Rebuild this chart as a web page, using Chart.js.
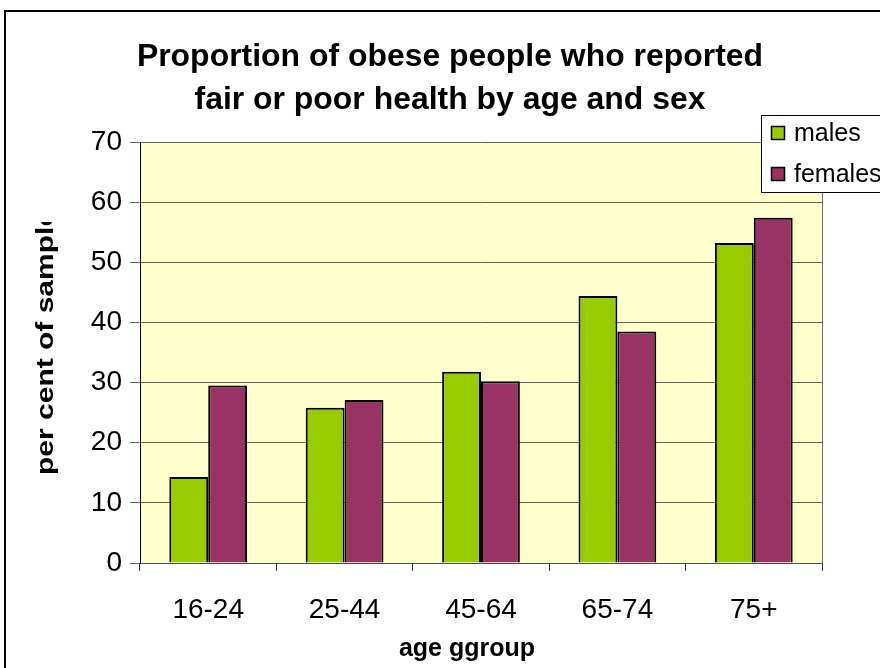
<!DOCTYPE html>
<html>
<head>
<meta charset="utf-8">
<script src="https://cdn.jsdelivr.net/npm/chart.js@4.4.1/dist/chart.umd.min.js"></script>
<style>
	body { margin: 0; background: #fff; }
	canvas { display: block; }
</style>
</head>
<body>
<canvas id="chart" width="880" height="668"></canvas>
<script>
let ageGroups = ['16-24', '25-44', '45-64', '65-74', '75+']
let males = [14.3, 25.8, 31.8, 44.4, 53.2]
let females = [29.5, 27.1, 30.2, 38.5, 57.4]
let titleLines = ['Proportion of obese people who reported', 'fair or poor health by age and sex']
let xTitle = 'age ggroup'
let yTitle = 'per cent of sample'

let fontFamily = '"Liberation Sans", Arial, sans-serif'

// text drawn with an optional horizontal stretch
function drawText(ctx, text, x, y, font, sx, align) {
	ctx.save()
	ctx.translate(x, y)
	ctx.scale(sx, 1)
	ctx.font = font
	ctx.textAlign = align
	ctx.textBaseline = 'alphabetic'
	ctx.fillStyle = '#000'
	ctx.fillText(text, 0, 0)
	ctx.restore()
}

let framePlugin = {
	id: 'frame',
	beforeDraw(chart) {
		let ctx = chart.ctx
		let a = chart.chartArea
		ctx.save()
		ctx.fillStyle = '#fff'
		ctx.fillRect(0, 0, chart.width, chart.height)
		ctx.fillStyle = '#FFFFCC'
		ctx.fillRect(a.left, a.top, a.right - a.left, a.bottom - a.top)
		ctx.restore()
	},
	afterDraw(chart) {
		let ctx = chart.ctx
		let a = chart.chartArea
		ctx.save()

		// right edge of the plot area
		ctx.strokeStyle = '#707070'
		ctx.lineWidth = 1
		ctx.beginPath()
		ctx.moveTo(Math.round(a.right) + 0.5, a.top)
		ctx.lineTo(Math.round(a.right) + 0.5, a.bottom)
		ctx.stroke()

		// chart border, runs off the right and bottom edges
		ctx.strokeStyle = '#000'
		ctx.lineWidth = 2
		ctx.strokeRect(5, 11, 1000, 1000)

		// title
		drawText(ctx, titleLines[0], 450, 66, 'bold 31px ' + fontFamily, 1.03, 'center')
		drawText(ctx, titleLines[1], 450, 109, 'bold 31px ' + fontFamily, 1.03, 'center')

		// x axis title
		drawText(ctx, xTitle, 467, 656, 'bold 25px ' + fontFamily, 1, 'center')

		// y axis title, clipped at the top
		ctx.save()
		ctx.beginPath()
		ctx.rect(0, 222, 140, 446)
		ctx.clip()
		ctx.translate(53, 475)
		ctx.rotate(-Math.PI / 2)
		ctx.scale(1.25, 1)
		ctx.font = 'bold 24px ' + fontFamily
		ctx.textAlign = 'left'
		ctx.textBaseline = 'alphabetic'
		ctx.fillStyle = '#000'
		ctx.fillText(yTitle, 0, 0)
		ctx.restore()

		// legend box
		ctx.fillStyle = '#fff'
		ctx.fillRect(761, 115, 200, 78)
		ctx.strokeStyle = '#000'
		ctx.lineWidth = 1
		ctx.strokeRect(761.5, 115.5, 200, 77)
		let rows = [133.5, 174.5]
		chart.data.datasets.forEach(function (ds, i) {
			ctx.fillStyle = ds.backgroundColor
			ctx.fillRect(771.5, rows[i] - 7, 13, 13)
			ctx.strokeStyle = '#000'
			ctx.lineWidth = 1.5
			ctx.strokeRect(771.5, rows[i] - 7, 13, 13)
			ctx.fillStyle = '#000'
			ctx.font = '25px ' + fontFamily
			ctx.textAlign = 'left'
			ctx.textBaseline = 'middle'
			ctx.fillText(ds.label, 794, rows[i] + 1)
		})

		ctx.restore()
	},
}

let chart = new Chart(document.getElementById('chart'), {
	type: 'bar',
	data: {
		labels: ageGroups,
		datasets: [
			{
				label: 'males',
				data: males,
				backgroundColor: '#99CC00',
				borderColor: '#000',
				borderWidth: 2,
				categoryPercentage: 0.57,
				barPercentage: 1.0,
			},
			{
				label: 'females',
				data: females,
				backgroundColor: '#993366',
				borderColor: '#000',
				borderWidth: 2,
				categoryPercentage: 0.57,
				barPercentage: 1.0,
			},
		],
	},
	options: {
		responsive: false,
		animation: false,
		layout: {
			padding: { top: 142, right: 58, left: 0, bottom: 0 },
		},
		plugins: {
			legend: { display: false },
			title: { display: false },
			tooltip: { enabled: false },
		},
		scales: {
			x: {
				afterFit(scale) {
					scale.height = 105
				},
				grid: {
					offset: true,
					drawOnChartArea: false,
					tickLength: 8,
					color: '#303030',
				},
				border: { color: '#505050', width: 1 },
				ticks: {
					color: '#000',
					font: { size: 28, family: fontFamily },
					padding: 22,
					maxRotation: 0,
				},
			},
			y: {
				min: 0,
				max: 70,
				afterFit(scale) {
					scale.width = 140
				},
				grid: {
					color: '#606060',
					tickLength: 10,
				},
				border: { color: '#000', width: 1 },
				ticks: {
					stepSize: 10,
					color: '#000',
					font: { size: 28, family: fontFamily },
					padding: 8,
				},
			},
		},
	},
	plugins: [framePlugin],
})
</script>
</body>
</html>
